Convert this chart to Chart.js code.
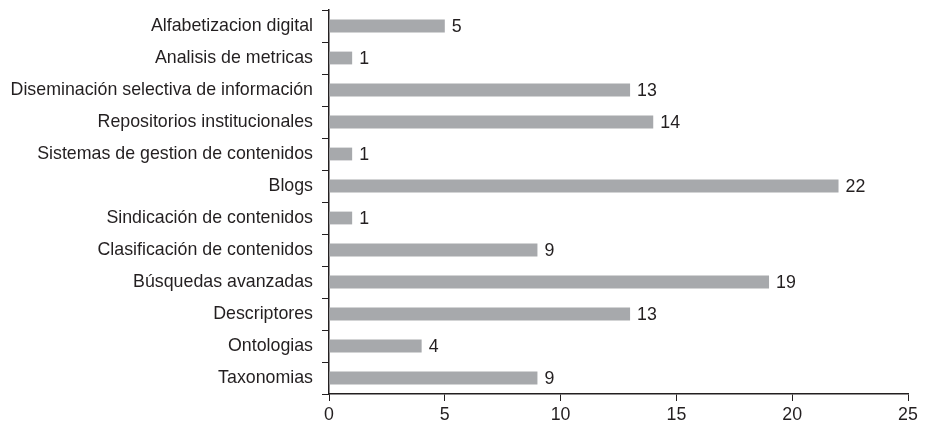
<!DOCTYPE html>
<html lang="es">
<head>
  <meta charset="UTF-8">
  <title>Herramientas</title>
  <script src="https://cdn.jsdelivr.net/npm/chart.js"></script>
  <style>
    body {
      margin: 0;
      background: #ffffff;
    }
    #wrap {
      width: 929px;
      height: 427px;
    }
  </style>
</head>
<body>

  <div id="wrap"><canvas id="barChart" width="929" height="427"></canvas></div>

  <script>
    const categories = [
      'Alfabetizacion digital',
      'Analisis de metricas',
      'Diseminación selectiva de información',
      'Repositorios institucionales',
      'Sistemas de gestion de contenidos',
      'Blogs',
      'Sindicación de contenidos',
      'Clasificación de contenidos',
      'Búsquedas avanzadas',
      'Descriptores',
      'Ontologias',
      'Taxonomias'
    ];
    const counts = [5, 1, 13, 14, 1, 22, 1, 9, 19, 13, 4, 9];
    const xTicks = [0, 5, 10, 15, 20, 25];

    const fontFamily = '"Liberation Sans", Arial, sans-serif';
    const fontSize = 17.8;
    const textColor = '#231f20';

    // numbers at the end of each bar
    const valueLabels = {
      id: 'valueLabels',
      afterDatasetsDraw(chart) {
        const ctx = chart.ctx;
        const meta = chart.getDatasetMeta(0);
        ctx.save();
        ctx.font = fontSize + 'px ' + fontFamily;
        ctx.fillStyle = textColor;
        ctx.textAlign = 'left';
        ctx.textBaseline = 'middle';
        meta.data.forEach((bar, i) => {
          ctx.fillText(String(counts[i]), bar.x + 7, bar.y + 1);
        });
        ctx.restore();
      }
    };

    const ctx = document.getElementById('barChart').getContext('2d');
    const chart = new Chart(ctx, {
      type: 'bar',
      data: {
        labels: categories,
        datasets: [{
          data: counts,
          backgroundColor: '#a7a9ac',
          borderWidth: 0,
          barPercentage: 0.4,
          categoryPercentage: 1
        }]
      },
      options: {
        indexAxis: 'y',
        responsive: false,
        animation: false,
        layout: { padding: { left: 0, right: 21, top: 10, bottom: 0 } },
        plugins: {
          legend: { display: false },
          tooltip: { enabled: false }
        },
        scales: {
          x: {
            min: 0,
            max: 25,
            afterBuildTicks(scale) {
              scale.ticks = xTicks.map(v => ({ value: v }));
            },
            afterFit(scale) {
              scale.height = 33;
            },
            grid: {
              drawOnChartArea: false,
              drawTicks: true,
              tickLength: 7,
              color: textColor
            },
            border: { color: textColor, width: 1.5 },
            ticks: {
              color: textColor,
              padding: 3,
              font: { family: fontFamily, size: fontSize }
            }
          },
          y: {
            afterFit(scale) {
              scale.width = 329;
              scale.paddingTop = 0;
              scale.paddingBottom = 0;
            },
            grid: {
              offset: true,
              drawOnChartArea: false,
              drawTicks: true,
              tickLength: 7,
              color: textColor
            },
            border: { color: textColor, width: 1.5 },
            ticks: {
              color: textColor,
              padding: 9,
              font: { family: fontFamily, size: fontSize }
            }
          }
        }
      },
      plugins: [valueLabels]
    });
  </script>

</body>
</html>
